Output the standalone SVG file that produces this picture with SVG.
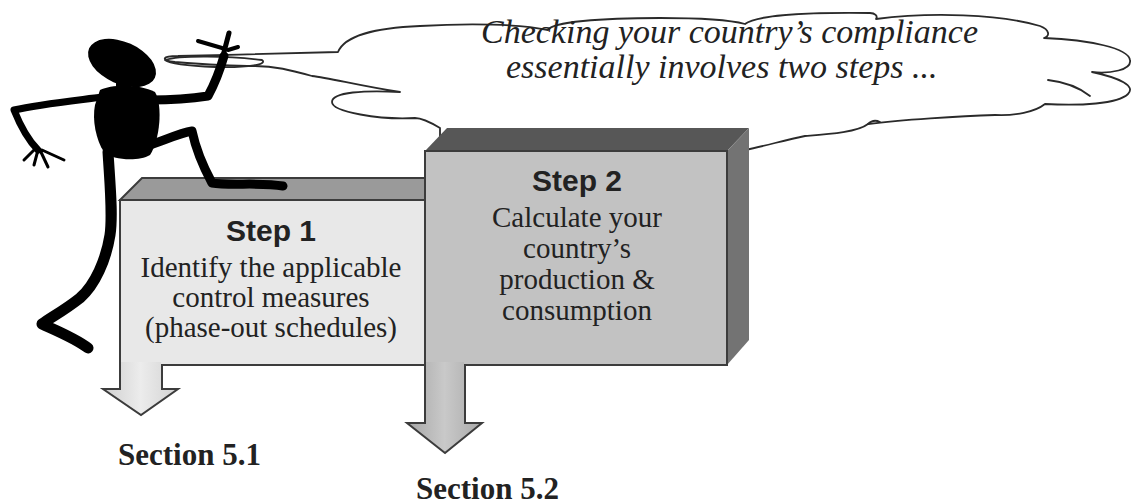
<svg xmlns="http://www.w3.org/2000/svg" width="1139" height="504" viewBox="0 0 1139 504">
  <defs>
    <linearGradient id="shaft1" x1="0" y1="0" x2="1" y2="0">
      <stop offset="0" stop-color="#cfcfcf"/>
      <stop offset="0.5" stop-color="#ececec"/>
      <stop offset="1" stop-color="#d2d2d2"/>
    </linearGradient>
    <linearGradient id="shaft2" x1="0" y1="0" x2="1" y2="0">
      <stop offset="0" stop-color="#a6a6a6"/>
      <stop offset="0.5" stop-color="#c9c9c9"/>
      <stop offset="1" stop-color="#a9a9a9"/>
    </linearGradient>
  </defs>
  <style>
    .cloud { fill: #ffffff; stroke: #2a2a2a; stroke-width: 1.8; stroke-linejoin: round; }
    .wisp { fill: none; stroke: #2a2a2a; stroke-width: 1.8; stroke-linecap: round; }
    .say { font-family: "Liberation Serif", "Times New Roman", serif; font-style: italic; font-size: 34px; fill: #222; }
    .head { font-family: "Liberation Sans", Arial, sans-serif; font-weight: bold; font-size: 30px; fill: #222; text-anchor: middle; }
    .body { font-family: "Liberation Serif", "Times New Roman", serif; font-size: 29px; fill: #222; text-anchor: middle; }
    .sec { font-family: "Liberation Serif", "Times New Roman", serif; font-weight: bold; font-size: 31px; fill: #222; }
    .edge { stroke: #3c3c3c; stroke-width: 2; stroke-linejoin: miter; }
    .limb { fill: none; stroke: #000; stroke-linecap: round; stroke-linejoin: round; }
  </style>

  <rect width="1139" height="504" fill="#ffffff"/>

  <!-- thought cloud -->
  <g id="cloud">
    <path class="cloud" d="M 338,52
      C 345,35 375,28 420,26
      C 470,23 520,24 548,30
      C 552,22 600,18 660,18
      C 700,18 730,20 745,24
      C 755,16 800,12 870,13
      C 875,13 878,16 876,19
      C 930,12 1000,14 1040,26
      C 1050,30 1050,36 1044,38
      C 1090,40 1128,48 1130,60
      C 1132,70 1110,74 1092,72
      C 1120,78 1136,86 1128,94
      C 1118,104 1080,106 1045,104
      C 1035,112 1015,116 995,115
      C 960,116 900,120 868,124
      C 858,132 830,134 805,136
      C 785,140 765,146 745,150
      L 745,200 L 440,200 L 440,128
      C 430,122 422,118 415,118
      C 380,120 332,112 332,102
      C 332,92 365,90 400,92
      C 360,86 330,78 312,76
      C 290,70 275,66 255,66
      C 230,66 200,64 175,62
      C 160,60 162,56 178,56
      C 230,55 300,53 338,52 Z"/>
    <path class="wisp" d="M 165,60 C 180,55 230,56 262,60 C 268,64 250,68 215,67 C 190,66 170,64 165,60"/>
    <path class="wisp" d="M 1048,80 C 1065,82 1080,88 1090,96"/>
    <path class="wisp" d="M 868,124 C 872,120 876,120 880,122"/>
    <text class="say" x="481" y="43">Checking your country’s compliance</text>
    <text class="say" x="506" y="78">essentially involves two steps ...</text>
  </g>

  <!-- step one block -->
  <g id="step1">
    <polygon points="120,200 142,178 440,178 440,200" fill="#9a9a9a" class="edge" stroke-width="1"/>
    <rect x="120" y="200" width="310" height="165" fill="#e8e8e8" class="edge"/>
    <text class="head" x="271" y="241">Step 1</text>
    <text class="body" x="271" y="277">Identify the applicable</text>
    <text class="body" x="271" y="307">control measures</text>
    <text class="body" x="271" y="337">(phase-out schedules)</text>
  </g>

  <!-- step two block -->
  <g id="step2">
    <polygon points="425,151 447,128 749,128 727,151" fill="#575757"/>
    <polygon points="727,151 749,128 749,340 727,365" fill="#737373"/>
    <rect x="425" y="151" width="302" height="214" fill="#c2c2c2" class="edge"/>
    <text class="head" x="577" y="191">Step 2</text>
    <text class="body" x="577" y="227">Calculate your</text>
    <text class="body" x="577" y="258">country’s</text>
    <text class="body" x="577" y="289">production &amp;</text>
    <text class="body" x="577" y="320">consumption</text>
  </g>

  <!-- arrows leading down from each block -->
  <g id="connectors">
    <polygon points="121,362 161,362 161,389 178,389 141,415 103,389 121,389" fill="url(#shaft1)"/>
    <polyline points="120,365 120,389 103,389 141,415 178,389 162,389 162,365" fill="none" class="edge"/>
    <polygon points="426,362 464,362 464,423 482,423 445,453 407,423 426,423" fill="url(#shaft2)"/>
    <polyline points="425,365 425,423 407,423 445,453 482,423 465,423 465,365" fill="none" class="edge"/>
  </g>

  <g id="section51">
    <text class="sec" x="118" y="465">Section 5.1</text>
  </g>
  <g id="section52">
    <text class="sec" x="416" y="499">Section 5.2</text>
  </g>

  <!-- climbing figure -->
  <g id="figure">
    <ellipse cx="122" cy="63" rx="36" ry="21" transform="rotate(24 122 63)" fill="#000"/>
    <rect x="116" y="80" width="12" height="12" fill="#000"/>
    <path d="M 100,90 C 112,84 140,84 155,92 C 163,105 160,140 150,155 C 138,162 112,160 104,152 C 96,140 92,120 95,105 Z" fill="#000"/>
    <!-- raised arm and hand -->
    <path class="limb" stroke-width="9" d="M 150,100 C 170,100 195,98 208,96 C 214,85 220,70 224,56"/>
    <path class="limb" stroke-width="5" d="M 224,52 L 229,33"/>
    <path class="limb" stroke-width="4" d="M 222,48 L 198,41"/>
    <path class="limb" stroke-width="4" d="M 228,50 L 238,47"/>
    <!-- other arm -->
    <path class="limb" stroke-width="7" d="M 102,97 C 80,100 40,104 14,110 C 20,125 28,140 38,150"/>
    <path class="limb" stroke-width="3" d="M 36,148 L 24,160 M 38,150 L 34,165 M 40,150 L 48,167 M 42,150 L 64,160"/>
    <!-- stepping leg -->
    <path class="limb" stroke-width="9" d="M 150,145 C 165,140 180,133 192,131 C 196,150 205,170 212,183 C 230,186 260,182 283,186"/>
    <!-- standing leg -->
    <path class="limb" stroke-width="11" d="M 108,152 C 110,185 113,215 110,235 C 106,260 95,285 80,298 C 65,310 50,318 42,324 C 55,330 75,338 88,348"/>
  </g>
</svg>
